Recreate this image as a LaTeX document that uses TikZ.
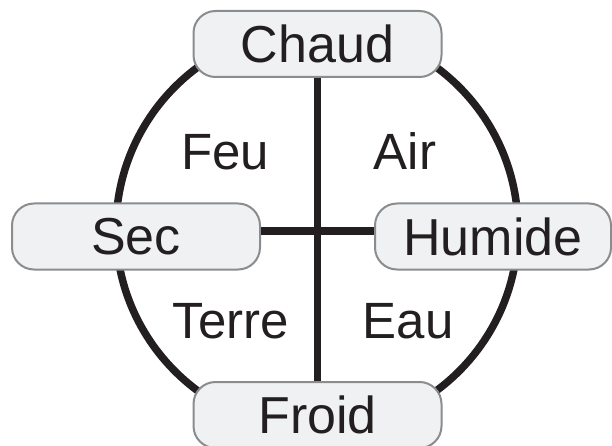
\documentclass[tikz,border=0pt]{standalone}
\usepackage{fontspec}
\setmainfont{Liberation Sans}
\usepackage{tikz}
\usetikzlibrary{positioning, calc}
\usepackage{xcolor}
\definecolor{ink}{HTML}{231F20}
\definecolor{frame}{HTML}{8A8C8E}
\definecolor{pale}{HTML}{F0F1F3}
\tikzset{
  qbox/.style={rectangle, rounded corners=22pt, draw=frame, line width=2pt,
               fill=pale, minimum height=66pt, minimum width=248pt,
               inner sep=0pt, align=center, text=ink,
               font=\fontsize{52}{58}\selectfont},
  elem/.style={text=ink, inner sep=0pt, font=\fontsize{51}{56}\selectfont},
  bar/.style={draw=ink, line width=7.5pt},
}
\begin{document}
\begin{tikzpicture}[x=1pt, y=-1pt]
  \useasboundingbox (0,0) rectangle (612,446);

  %% outer ring
  \draw[bar] (317,229) circle[radius=201];
  \coordinate (cross) at (317,231);

  %% qualities
  \node[qbox] (chaud)  at (317.5,44)  {Chaud};
  \node[qbox] (froid)  at (317.5,415) {Froid};
  \node[qbox] (sec)    at (136,236.5) {Sec};
  \node[qbox, minimum width=236pt] (humide) at (493,236.5) {Humide};

  %% elements
  \node[elem, anchor=base] (feu)   at (225,170) {Feu};
  \node[elem, anchor=base] (air)   at (405,170) {Air};
  \node[elem, anchor=base] (terre) at (231,338) {Terre};
  \node[elem, anchor=base] (eau)   at (408,338) {Eau};

  %% axes
  \draw[bar] (chaud) -- (froid);
  \draw[bar] (sec.east |- cross) -- (humide.west |- cross);

\end{tikzpicture}
\end{document}
